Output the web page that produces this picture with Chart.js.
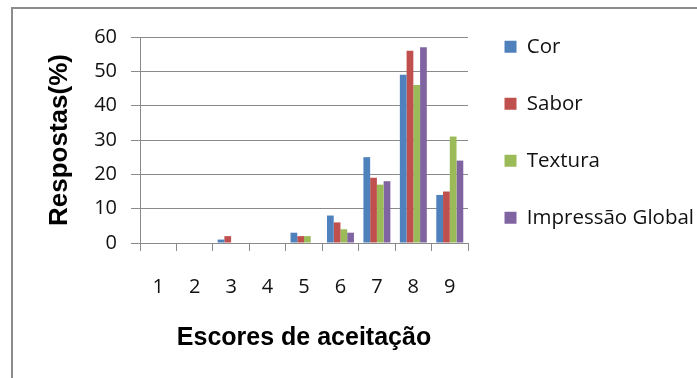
<!DOCTYPE html>
<html>
<head>
<meta charset="utf-8">
<script src="https://cdn.jsdelivr.net/npm/chart.js@4"></script>
<style>
  html, body { margin: 0; padding: 0; background: #fff; }
  #wrap { position: relative; width: 697px; height: 378px; }
</style>
</head>
<body>
<div id="wrap"><canvas id="chart"></canvas></div>
<script>
// --- dados ---
const escores = ['1', '2', '3', '4', '5', '6', '7', '8', '9'];
const cor = [0, 0, 1, 0, 3, 8, 25, 49, 14];
const sabor = [0, 0, 2, 0, 2, 6, 19, 56, 15];
const textura = [0, 0, 0, 0, 2, 4, 17, 46, 31];
const impressaoGlobal = [0, 0, 0, 0, 0, 3, 18, 57, 24];
const yTicks = [0, 10, 20, 30, 40, 50, 60];

const GRID = '#8a8a8a';
const TICK_FONT = { family: 'Open Sans', size: 20 };

// moldura cinza (so topo e esquerda)
const frame = {
    id: 'frame',
    beforeDraw(chart) {
        const c = chart.ctx;
        c.save();
        c.strokeStyle = '#8c8c8c';
        c.lineWidth = 2;
        c.beginPath();
        c.moveTo(12, 378);
        c.lineTo(12, 8);
        c.lineTo(697, 8);
        c.stroke();
        c.restore();
    }
};

const ctx = document.getElementById('chart').getContext('2d');
new Chart(ctx, {
    type: 'bar',
    data: {
        labels: escores,
        datasets: [
            { label: 'Cor', data: cor, backgroundColor: '#4f81bd' },
            { label: 'Sabor', data: sabor, backgroundColor: '#c0504d' },
            { label: 'Textura', data: textura, backgroundColor: '#9bbb59' },
            { label: 'Impressão Global', data: impressaoGlobal, backgroundColor: '#8064a2' }
        ]
    },
    options: {
        responsive: true,
        maintainAspectRatio: false,
        animation: false,
        devicePixelRatio: 1,
        layout: { padding: { top: 0, left: 28, right: -7, bottom: 0 } },
        datasets: { bar: { categoryPercentage: 0.74, barPercentage: 1, borderWidth: 0 } },
        scales: {
            x: {
                grid: { offset: true, drawOnChartArea: false, color: GRID, tickLength: 8 },
                border: { color: GRID },
                ticks: { color: '#111', font: TICK_FONT, padding: 24, maxRotation: 0, autoSkip: false },
                title: {
                    display: true,
                    text: 'Escores de aceitação',
                    color: '#000',
                    font: { family: 'Liberation Sans', size: 25, weight: 'bold' },
                    padding: { top: 0, bottom: 25 }
                }
            },
            y: {
                min: 0,
                max: 60,
                afterBuildTicks(scale) { scale.ticks = yTicks.map(v => ({ value: v })); },
                afterFit(scale) { scale.width = 112; },
                grid: { color: GRID, tickLength: 9 },
                border: { color: GRID },
                ticks: { color: '#111', font: TICK_FONT, padding: 14 },
                title: {
                    display: true,
                    text: 'Respostas(%)',
                    color: '#000',
                    font: { family: 'Liberation Sans', size: 26, weight: 'bold' },
                    padding: { top: 16, bottom: 0 }
                }
            }
        },
        plugins: {
            // espaco vazio acima da area do grafico, sem empurrar a legenda
            title: { display: true, text: '', fullSize: false, font: { size: 10 }, padding: { top: 25, bottom: 0 } },
            legend: {
                position: 'right',
                align: 'start',
                maxWidth: 320,
                labels: {
                    boxWidth: 12,
                    boxHeight: 12,
                    padding: 36.5,
                    color: '#111',
                    font: { family: 'Open Sans', size: 20.5 }
                }
            },
            tooltip: { enabled: false }
        }
    },
    plugins: [frame]
});
</script>
</body>
</html>
